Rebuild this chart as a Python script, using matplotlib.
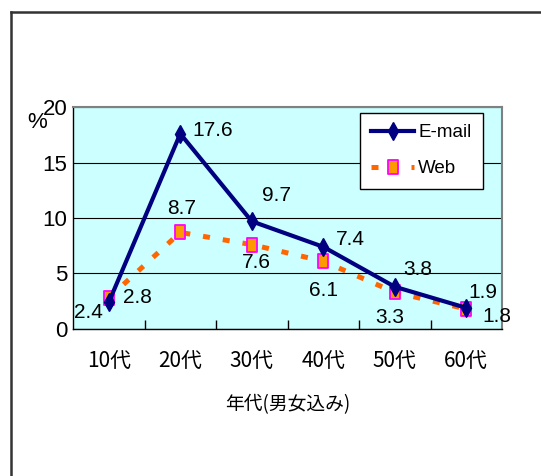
import matplotlib
matplotlib.use("Agg")
import matplotlib.pyplot as plt
from matplotlib.lines import Line2D
from matplotlib.path import Path

# データ
categories = ["10代", "20代", "30代", "40代", "50代", "60代"]
email = [2.4, 17.6, 9.7, 7.4, 3.8, 1.9]
web = [2.8, 8.7, 7.6, 6.1, 3.3, 1.8]
yticks = [0, 5, 10, 15, 20]

# ラベル位置 (pixel offset, ha)
email_off = [(-6, -10, "right"), (12, 3, "left"), (10, 26, "left"),
             (13, 7, "left"), (8, 17, "left"), (2, 15, "left")]
web_off = [(14, 0, "left"), (1, 24, "center"), (5, -18, "center"),
           (0, -29, "center"), (-5, -25, "center"), (16, -8, "left")]

num_font = ["Liberation Sans", "DejaVu Sans"]
jp_font = ["Noto Sans CJK JP", "DejaVu Sans"]

fig = plt.figure(figsize=(5.41, 4.76), dpi=100)
ax = fig.add_axes([0.135, 0.309, 0.793, 0.466])
ax.set_facecolor("#CCFFFF")

x = list(range(len(categories)))

rect = Path([(-0.32, -0.5), (0.32, -0.5), (0.32, 0.5), (-0.32, 0.5), (-0.32, -0.5)],
            [Path.MOVETO, Path.LINETO, Path.LINETO, Path.LINETO, Path.CLOSEPOLY])

ax.plot(x, web, color="#FF6600", lw=3.6, linestyle=(0, (1.4, 2.6)),
        marker=rect, markersize=10.5, markerfacecolor="#FF9900",
        markeredgecolor="#FF00FF", markeredgewidth=1.3, label="Web", zorder=3)
ax.plot(x, email, color="#000080", lw=3, marker="d", markersize=9,
        markerfacecolor="#000080", markeredgecolor="#000080", label="E-mail", zorder=4)

for i, v in enumerate(email):
    dx, dy, ha = email_off[i]
    ax.annotate(f"{v}", (x[i], v), xytext=(dx, dy), textcoords="offset pixels",
                ha=ha, va="center", fontsize=15, family=num_font, zorder=5)
for i, v in enumerate(web):
    dx, dy, ha = web_off[i]
    ax.annotate(f"{v}", (x[i], v), xytext=(dx, dy), textcoords="offset pixels",
                ha=ha, va="center", fontsize=15, family=num_font, zorder=5)

ax.set_xlim(-0.5, len(categories) - 0.5)
ax.set_ylim(0, 20)
ax.set_yticks(yticks)
ax.set_yticklabels([str(t) for t in yticks], family=num_font, fontsize=16)
ax.set_xticks(x)
ax.set_xticklabels(categories, family=jp_font, fontsize=15)
ax.set_xticks([i + 0.5 for i in x[:-1]], minor=True)
ax.tick_params(axis="x", which="major", length=0, pad=15)
ax.tick_params(axis="x", which="minor", direction="in", length=6.5, width=1)
ax.tick_params(axis="y", length=0, pad=4)
ax.grid(axis="y", color="black", lw=0.8)
ax.set_axisbelow(True)

for s in ["left", "bottom"]:
    ax.spines[s].set_color("black")
    ax.spines[s].set_linewidth(1)
for s in ["top", "right"]:
    ax.spines[s].set_color("#808080")
    ax.spines[s].set_linewidth(1.5)

ax.set_xlabel("年代(男女込み)", family=jp_font, fontsize=13.5, labelpad=16)

handles, labels = ax.get_legend_handles_labels()
leg = ax.legend(handles[::-1], labels[::-1], loc="upper left",
                bbox_to_anchor=(0.669, 0.973), borderaxespad=0, fancybox=False,
                framealpha=1, edgecolor="black", handlelength=2.3,
                prop={"family": num_font, "size": 13.5}, borderpad=0.6,
                labelspacing=1.0, handletextpad=0.2)
leg.get_frame().set_linewidth(1)

fig.text(27 / 541, 1 - 122 / 476, "%", fontsize=16, family=num_font, va="center")

# 外枠
fig.add_artist(Line2D([10.5 / 541, 10.5 / 541], [0, 1 - 12 / 476], color="#333333", lw=1.8))
fig.add_artist(Line2D([10.5 / 541, 1], [1 - 12 / 476, 1 - 12 / 476], color="#333333", lw=1.8))

fig.savefig("out.png", dpi=100)
